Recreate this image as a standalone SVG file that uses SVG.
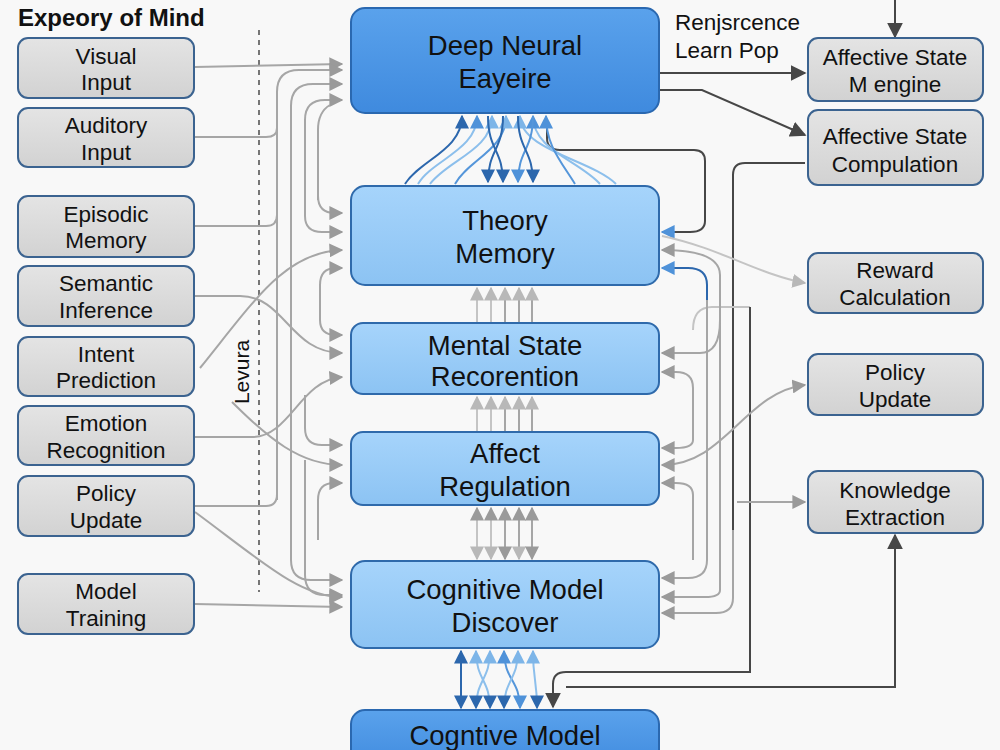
<svg xmlns="http://www.w3.org/2000/svg" width="1000" height="750" viewBox="0 0 1000 750">
<defs>
<linearGradient id="gDark" x1="0" y1="0" x2="0" y2="1"><stop offset="0" stop-color="#5aa2ec"/><stop offset="1" stop-color="#3f8ade"/></linearGradient>
<linearGradient id="gLight" x1="0" y1="0" x2="0" y2="1"><stop offset="0" stop-color="#a6d4fb"/><stop offset="1" stop-color="#8cc3f3"/></linearGradient>
<linearGradient id="gGray" x1="0" y1="0" x2="0" y2="1"><stop offset="0" stop-color="#e4e4e4"/><stop offset="1" stop-color="#d2d2d2"/></linearGradient>
<marker id="ag" viewBox="0 0 10 10" refX="9" refY="5" markerWidth="14" markerHeight="14" markerUnits="userSpaceOnUse" orient="auto-start-reverse"><path d="M0,0 L10,5 L0,10 z" fill="#9a9a9a"/></marker>
<marker id="al" viewBox="0 0 10 10" refX="9" refY="5" markerWidth="14" markerHeight="14" markerUnits="userSpaceOnUse" orient="auto-start-reverse"><path d="M0,0 L10,5 L0,10 z" fill="#b8b8b8"/></marker>
<marker id="ad" viewBox="0 0 10 10" refX="9" refY="5" markerWidth="16" markerHeight="16" markerUnits="userSpaceOnUse" orient="auto-start-reverse"><path d="M0,0 L10,5 L0,10 z" fill="#474747"/></marker>
<marker id="ab" viewBox="0 0 10 10" refX="9" refY="5" markerWidth="14" markerHeight="14" markerUnits="userSpaceOnUse" orient="auto-start-reverse"><path d="M0,0 L10,5 L0,10 z" fill="#2c67ad"/></marker>
<marker id="abm" viewBox="0 0 10 10" refX="9" refY="5" markerWidth="14" markerHeight="14" markerUnits="userSpaceOnUse" orient="auto-start-reverse"><path d="M0,0 L10,5 L0,10 z" fill="#4f92d9"/></marker>
<marker id="abl" viewBox="0 0 10 10" refX="9" refY="5" markerWidth="14" markerHeight="14" markerUnits="userSpaceOnUse" orient="auto-start-reverse"><path d="M0,0 L10,5 L0,10 z" fill="#7db5e8"/></marker>
</defs>
<style>
text{font-family:"Liberation Sans",Arial,sans-serif;fill:#111}
.c{font-size:27.5px;text-anchor:middle}
.s{font-size:22.5px;text-anchor:middle}
.dk rect{fill:url(#gDark);stroke:#2a68b0;stroke-width:2}
.lt rect{fill:url(#gLight);stroke:#2f6aab;stroke-width:2}
.gy rect{fill:url(#gGray);stroke:#3b6390;stroke-width:2}
.g{fill:none;stroke:#a6a6a6;stroke-width:2}
.l{fill:none;stroke:#c4c4c4;stroke-width:2}
.d{fill:none;stroke:#474747;stroke-width:2}
.b{fill:none;stroke:#2c67ad;stroke-width:2}
.bm{fill:none;stroke:#5596da;stroke-width:2}
.bl{fill:none;stroke:#8cbfec;stroke-width:2}
</style>
<rect width="1000" height="750" fill="#f8f8f8"/>
<text x="18" y="26" style="font-size:24px;font-weight:bold">Expeory of Mind</text>
<line x1="259" y1="30" x2="259" y2="592" stroke="#555" stroke-width="1.6" stroke-dasharray="5,5"/>
<text transform="translate(249,372) rotate(-90)" style="font-size:21px;text-anchor:middle">Levura</text>
<text x="675" y="30" style="font-size:22.5px">Renjsrcence</text>
<text x="675" y="58" style="font-size:22.5px">Learn Pop</text>

<g id="connectors">
<!-- left side -->
<path class="g" d="M195,67 L342,64" marker-end="url(#ag)"/>
<path class="g" d="M195,137 H266 Q277,137 277,128"/>
<path class="g" d="M195,226 H266 Q277,226 277,215"/>
<path class="g" d="M195,506 H266 Q277,506 277,494"/>
<path class="g" d="M277,500 V92 Q277,70 299,70 H342" marker-end="url(#ag)"/>
<path class="g" d="M291,350 V106 Q291,84 313,84 H342" marker-end="url(#ag)"/>
<path class="g" d="M305,200 V120 Q305,100 325,100 H342" marker-end="url(#ag)"/>
<path class="g" d="M318,200 V130 Q318,112 330,105"/>
<path class="g" d="M318,150 V196 Q318,213 335,213 H342" marker-end="url(#ag)"/>
<path class="g" d="M305,200 V216 Q305,232 322,232 H342" marker-end="url(#ag)"/>
<path class="g" d="M200,368 C255,300 285,252 342,250" marker-end="url(#ag)"/>
<path class="g" d="M320,310 V285 Q320,268 336,268 H342" marker-end="url(#ag)"/>
<path class="g" d="M320,300 V320 Q320,335 336,335 H342" marker-end="url(#ag)"/>
<path class="g" d="M195,296 H240 C285,296 290,353 342,353" marker-end="url(#ag)"/>
<path class="g" d="M195,437 H252 C290,437 300,380 342,377" marker-end="url(#ag)"/>
<path class="g" d="M305,395 V428 Q305,445 322,445 H342" marker-end="url(#ag)"/>
<path class="g" d="M232,402 C268,438 300,465 342,465" marker-end="url(#ag)"/>
<path class="g" d="M318,540 V500 Q318,483 334,483 H342" marker-end="url(#ag)"/>
<path class="g" d="M291,350 V560 Q291,580 311,580 H342" marker-end="url(#ag)"/>
<path class="g" d="M305,460 V575 Q305,595 325,595 H342" marker-end="url(#ag)"/>
<path class="g" d="M195,512 C260,560 300,597 342,597" marker-end="url(#ag)"/>
<path class="g" d="M195,604 L342,607" marker-end="url(#ag)"/>
<!-- top right dark -->
<path class="d" d="M660,73 H805" marker-end="url(#ad)"/>
<path class="d" d="M660,90 H702 L805,135" marker-end="url(#ad)"/>
<path class="d" d="M895,0 V37" marker-end="url(#ad)"/>
<path class="d" d="M547,126 V138 Q547,150 560,150 H694 Q705,150 705,161 V221 Q705,232 690,232 H672"/>
<path class="b" d="M675,232 H662" marker-end="url(#abm)"/>
<path class="d" d="M805,163 H745 Q733,163 733,175 V540"/>
<path class="g" d="M733,530 V598 Q733,613 716,613 H662" marker-end="url(#ag)"/>
<path class="l" d="M693,330 Q693,307 712,307 H750"/>
<path class="d" d="M750,307 V672 H566 Q553,672 553,684 V707" marker-end="url(#ad)"/>
<path class="d" d="M566,687 H895 V535" marker-end="url(#ad)"/>
<!-- right side gray -->
<path class="l" d="M662,236 C720,248 760,275 805,283" marker-end="url(#al)"/>
<path class="g" d="M662,250 Q720,250 720,275 V590 Q720,597 705,597 H662" marker-start="url(#ag)" marker-end="url(#ag)"/>
<path class="g" d="M707,290 V560 Q707,578 688,578 H662" marker-end="url(#ag)"/>
<path class="b" d="M707,300 V285 Q707,268 688,268 H662" marker-end="url(#abm)"/>
<path class="g" d="M720,320 Q720,353 700,353 H662" marker-end="url(#ag)"/>
<path class="g" d="M693,440 V388 Q693,372 676,372 H662" marker-end="url(#ag)"/>
<path class="g" d="M693,440 Q693,448 676,448 H662" marker-end="url(#ag)"/>
<path class="g" d="M805,385 C745,392 725,465 662,465" marker-start="url(#ag)" marker-end="url(#ag)"/>
<path class="g" d="M693,495 Q693,483 676,483 H662" marker-end="url(#ag)"/>
<path class="g" d="M693,495 V560"/>
<path class="g" d="M737,502 H805" marker-end="url(#ag)"/>
<!-- central: Deep <-> Theory -->
<path class="b" d="M405,184 C420,160 462,150 462,116" marker-end="url(#ab)"/>
<path class="bl" d="M418,184 C432,160 477,150 477,116" marker-end="url(#abm)"/>
<path class="bl" d="M430,184 C448,160 492,150 492,116" marker-end="url(#abl)"/>
<path class="bm" d="M455,184 C468,160 506,150 506,116" marker-end="url(#abl)"/>
<path class="bl" d="M616,184 C592,160 520,150 520,116" marker-end="url(#abl)"/>
<path class="bl" d="M600,184 C578,160 533,150 533,116" marker-end="url(#abm)"/>
<path class="bm" d="M575,184 C560,160 546,145 546,116" marker-end="url(#abm)"/>
<path class="b" d="M503,116 C503,150 488,150 488,182" marker-end="url(#ab)"/>
<path class="b" d="M488,116 C488,150 503,150 503,182" marker-end="url(#ab)"/>
<path class="bm" d="M533,116 C533,150 518,150 518,182" marker-end="url(#abm)"/>
<path class="b" d="M518,116 C518,150 533,150 533,182" marker-end="url(#ab)"/>
<!-- Theory <- Mental -->
<path class="l" d="M477,322 V288" marker-end="url(#al)"/>
<path class="l" d="M491,322 V288" marker-end="url(#al)"/>
<path class="g" d="M505,322 V288" marker-end="url(#al)"/>
<path class="g" d="M519,322 V288" marker-end="url(#al)"/>
<path class="g" d="M532,322 V288" marker-end="url(#al)"/>
<!-- Mental <- Affect -->
<path class="l" d="M477,431 V397" marker-end="url(#al)"/>
<path class="l" d="M491,431 V397" marker-end="url(#al)"/>
<path class="g" d="M505,431 V397" marker-end="url(#al)"/>
<path class="g" d="M519,431 V397" marker-end="url(#al)"/>
<path class="g" d="M532,431 V397" marker-end="url(#al)"/>
<!-- Affect <-> Cognitive -->
<path class="l" d="M477,508 V559" marker-start="url(#ag)" marker-end="url(#al)"/>
<path class="l" d="M491,508 V559" marker-start="url(#ag)" marker-end="url(#al)"/>
<path class="g" d="M505,508 V559" marker-start="url(#ag)" marker-end="url(#ag)"/>
<path class="g" d="M519,508 V559" marker-start="url(#ag)" marker-end="url(#al)"/>
<path class="g" d="M532,508 V559" marker-start="url(#ag)" marker-end="url(#ag)"/>
<!-- Cognitive <-> Cogntive -->
<path class="b" d="M461,651 V708" marker-start="url(#ab)" marker-end="url(#ab)"/>
<path class="bl" d="M476,651 C476,680 490,680 490,708" marker-start="url(#abl)" marker-end="url(#ab)"/>
<path class="bl" d="M490,651 C490,680 476,680 476,708" marker-start="url(#abl)" marker-end="url(#ab)"/>
<path class="bm" d="M504,651 C504,680 520,680 520,708" marker-start="url(#abm)" marker-end="url(#abm)"/>
<path class="bl" d="M518,651 C518,680 504,680 504,708" marker-start="url(#abl)" marker-end="url(#ab)"/>
<path class="bl" d="M533,651 C533,680 537,680 537,708" marker-start="url(#abl)" marker-end="url(#ab)"/>
</g>

<g id="deep-neural" class="dk"><rect x="351" y="8" width="308" height="105" rx="14"/><text class="c" x="505" y="55">Deep Neural</text><text class="c" x="505" y="88">Eayeire</text></g>
<g id="theory-memory" class="lt"><rect x="351" y="186" width="308" height="99" rx="14"/><text class="c" x="505" y="230">Theory</text><text class="c" x="505" y="263">Memory</text></g>
<g id="mental-state" class="lt"><rect x="351" y="323" width="308" height="71" rx="12"/><text class="c" x="505" y="355">Mental State</text><text class="c" x="505" y="386">Recorention</text></g>
<g id="affect-regulation" class="lt"><rect x="351" y="432" width="308" height="73" rx="12"/><text class="c" x="505" y="463">Affect</text><text class="c" x="505" y="496">Regulation</text></g>
<g id="cognitive-discover" class="lt"><rect x="351" y="561" width="308" height="87" rx="14"/><text class="c" x="505" y="599">Cognitive Model</text><text class="c" x="505" y="632">Discover</text></g>
<g id="cogntive-model" class="dk"><rect x="351" y="710" width="308" height="60" rx="14"/><text class="c" x="505" y="745">Cogntive Model</text></g>

<g id="visual-input" class="gy"><rect x="18" y="38" width="176" height="60" rx="10"/><text class="s" x="106" y="64">Visual</text><text class="s" x="106" y="90">Input</text></g>
<g id="auditory-input" class="gy"><rect x="18" y="108" width="176" height="59" rx="10"/><text class="s" x="106" y="133">Auditory</text><text class="s" x="106" y="160">Input</text></g>
<g id="episodic-memory" class="gy"><rect x="18" y="196" width="176" height="61" rx="10"/><text class="s" x="106" y="222">Episodic</text><text class="s" x="106" y="248">Memory</text></g>
<g id="semantic-inference" class="gy"><rect x="18" y="266" width="176" height="60" rx="10"/><text class="s" x="106" y="291">Semantic</text><text class="s" x="106" y="318">Inference</text></g>
<g id="intent-prediction" class="gy"><rect x="18" y="337" width="176" height="59" rx="10"/><text class="s" x="106" y="362">Intent</text><text class="s" x="106" y="388">Prediction</text></g>
<g id="emotion-recognition" class="gy"><rect x="18" y="406" width="176" height="59" rx="10"/><text class="s" x="106" y="431">Emotion</text><text class="s" x="106" y="458">Recognition</text></g>
<g id="policy-update-left" class="gy"><rect x="18" y="476" width="176" height="60" rx="10"/><text class="s" x="106" y="501">Policy</text><text class="s" x="106" y="528">Update</text></g>
<g id="model-training" class="gy"><rect x="18" y="574" width="176" height="60" rx="10"/><text class="s" x="106" y="599">Model</text><text class="s" x="106" y="626">Training</text></g>

<g id="affective-engine" class="gy"><rect x="808" y="38" width="175" height="63" rx="10"/><text class="s" x="895" y="65">Affective State</text><text class="s" x="895" y="92">M engine</text></g>
<g id="affective-compulation" class="gy"><rect x="808" y="110" width="175" height="75" rx="10"/><text class="s" x="895" y="144">Affective State</text><text class="s" x="895" y="172">Compulation</text></g>
<g id="reward-calculation" class="gy"><rect x="808" y="253" width="175" height="60" rx="10"/><text class="s" x="895" y="278">Reward</text><text class="s" x="895" y="305">Calculation</text></g>
<g id="policy-update-right" class="gy"><rect x="808" y="354" width="175" height="61" rx="10"/><text class="s" x="895" y="380">Policy</text><text class="s" x="895" y="407">Update</text></g>
<g id="knowledge-extraction" class="gy"><rect x="808" y="471" width="175" height="62" rx="10"/><text class="s" x="895" y="498">Knowledge</text><text class="s" x="895" y="525">Extraction</text></g>
</svg>
